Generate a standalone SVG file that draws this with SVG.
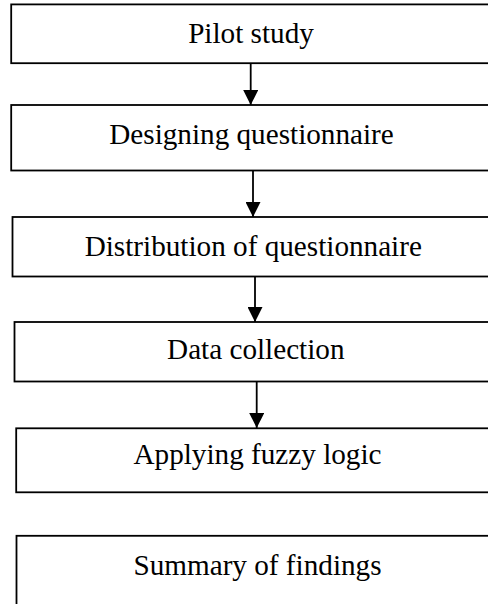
<svg xmlns="http://www.w3.org/2000/svg" width="488" height="604" viewBox="0 0 488 604">
<defs>
<style>
.box{fill:#fff;stroke:#000;stroke-width:1.8}
.lbl{font-family:"Liberation Serif","Times New Roman",serif;font-size:29.2px;fill:#000;text-anchor:middle}
.conn{stroke:#000;stroke-width:1.8;fill:none}
</style>
<marker id="ah" markerUnits="userSpaceOnUse" markerWidth="16" markerHeight="15" refX="15" refY="7.5" orient="auto">
<path d="M0,0 L15,7.5 L0,15 Z" fill="#000"/>
</marker>
</defs>
<rect width="488" height="604" fill="#fff"/>
<g id="connectors">
<line class="conn" x1="250.7" y1="63.5" x2="250.7" y2="105" marker-end="url(#ah)"/>
<line class="conn" x1="253" y1="170.5" x2="253" y2="217" marker-end="url(#ah)"/>
<line class="conn" x1="255" y1="276.5" x2="255" y2="322" marker-end="url(#ah)"/>
<line class="conn" x1="256.7" y1="381.5" x2="256.7" y2="428" marker-end="url(#ah)"/>
</g>
<g id="n1"><rect class="box" x="11.2" y="4.4" width="500" height="58.8"/><text class="lbl" x="251" y="42.7">Pilot study</text></g>
<g id="n2"><rect class="box" x="11.2" y="105" width="500" height="65.5"/><text class="lbl" x="251.5" y="144">Designing questionnaire</text></g>
<g id="n3"><rect class="box" x="12.5" y="217" width="500" height="59.5"/><text class="lbl" x="253.3" y="255.7">Distribution of questionnaire</text></g>
<g id="n4"><rect class="box" x="14.5" y="322" width="500" height="59.5"/><text class="lbl" x="255.8" y="359.3">Data collection</text></g>
<g id="n5"><rect class="box" x="16.2" y="428.3" width="500" height="64"/><text class="lbl" x="257.5" y="464.3">Applying fuzzy logic</text></g>
<g id="n6"><rect class="box" x="16.5" y="535.8" width="500" height="100"/><text class="lbl" x="257.5" y="575">Summary of findings</text></g>
</svg>
